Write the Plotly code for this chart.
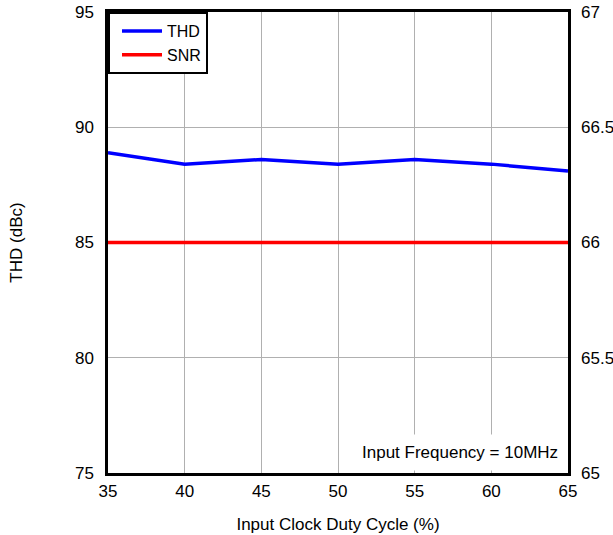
import plotly.graph_objects as go

duty = [35, 40, 45, 50, 55, 60, 65]
thd = [88.9, 88.4, 88.6, 88.4, 88.6, 88.4, 88.1]
snr = [66.0, 66.0, 66.0, 66.0, 66.0, 66.0, 66.0]
x_ticks = [35, 40, 45, 50, 55, 60, 65]
y_ticks = [75, 80, 85, 90, 95]
y2_ticks = [65, 65.5, 66, 66.5, 67]
y2_labels = ["65", "65.5", "66", "66.5", "67"]

font = dict(family="Liberation Sans, Arial, sans-serif", size=17, color="black")

fig = go.Figure()
fig.add_trace(go.Scatter(x=duty, y=thd, name="THD", mode="lines",
                         line=dict(color="#0000ff", width=3.5)))
fig.add_trace(go.Scatter(x=duty, y=snr, name="SNR", mode="lines", yaxis="y2",
                         line=dict(color="#ff0000", width=3.5)))

fig.update_layout(
    width=613, height=535,
    margin=dict(l=108, r=45, t=12, b=62, autoexpand=False),
    paper_bgcolor="white", plot_bgcolor="white",
    font=font,
    showlegend=True,
    legend=dict(x=0, y=1, xanchor="left", yanchor="top",
                bgcolor="white", bordercolor="black", borderwidth=2,
                font=dict(family=font["family"], size=16, color="black"),
                itemwidth=40, tracegroupgap=0, indentation=7),
    xaxis=dict(range=[35, 65], tickvals=x_ticks, ticks="", showgrid=True,
               gridcolor="#b0b0b0", gridwidth=1, showline=True, linecolor="black",
               linewidth=2.5, mirror=True, zeroline=False, automargin=False,
               title=dict(text="Input Clock Duty Cycle (%)", font=font, standoff=18),
               tickfont=font, ticklabelstandoff=1),
    yaxis=dict(range=[75, 95], tickvals=y_ticks, ticks="", showgrid=True,
               gridcolor="#b0b0b0", gridwidth=1, showline=True, linecolor="black",
               linewidth=2.5, mirror=True, zeroline=False, automargin=False,
               title=dict(text="THD (dBc)", font=font, standoff=48),
               tickfont=font, ticklabelstandoff=8),
    yaxis2=dict(range=[65, 67], tickvals=y2_ticks, ticktext=y2_labels, ticks="",
                overlaying="y", side="right", showgrid=False, zeroline=False,
                showline=False, tickfont=font, ticklabelstandoff=12, automargin=False),
    annotations=[dict(text="Input Frequency = 10MHz", xref="paper", yref="paper",
                      x=1, y=0, xanchor="right", yanchor="bottom", showarrow=False,
                      bgcolor="white", borderpad=8, xshift=-1, yshift=2,
                      font=font)],
)

fig.write_html(
    "out.html",
    config={"displayModeBar": False},
    post_script=(
        "document.body.style.margin='0';"
        "document.body.style.overflow='hidden';"
        "document.documentElement.style.overflow='hidden';"
    ),
)
